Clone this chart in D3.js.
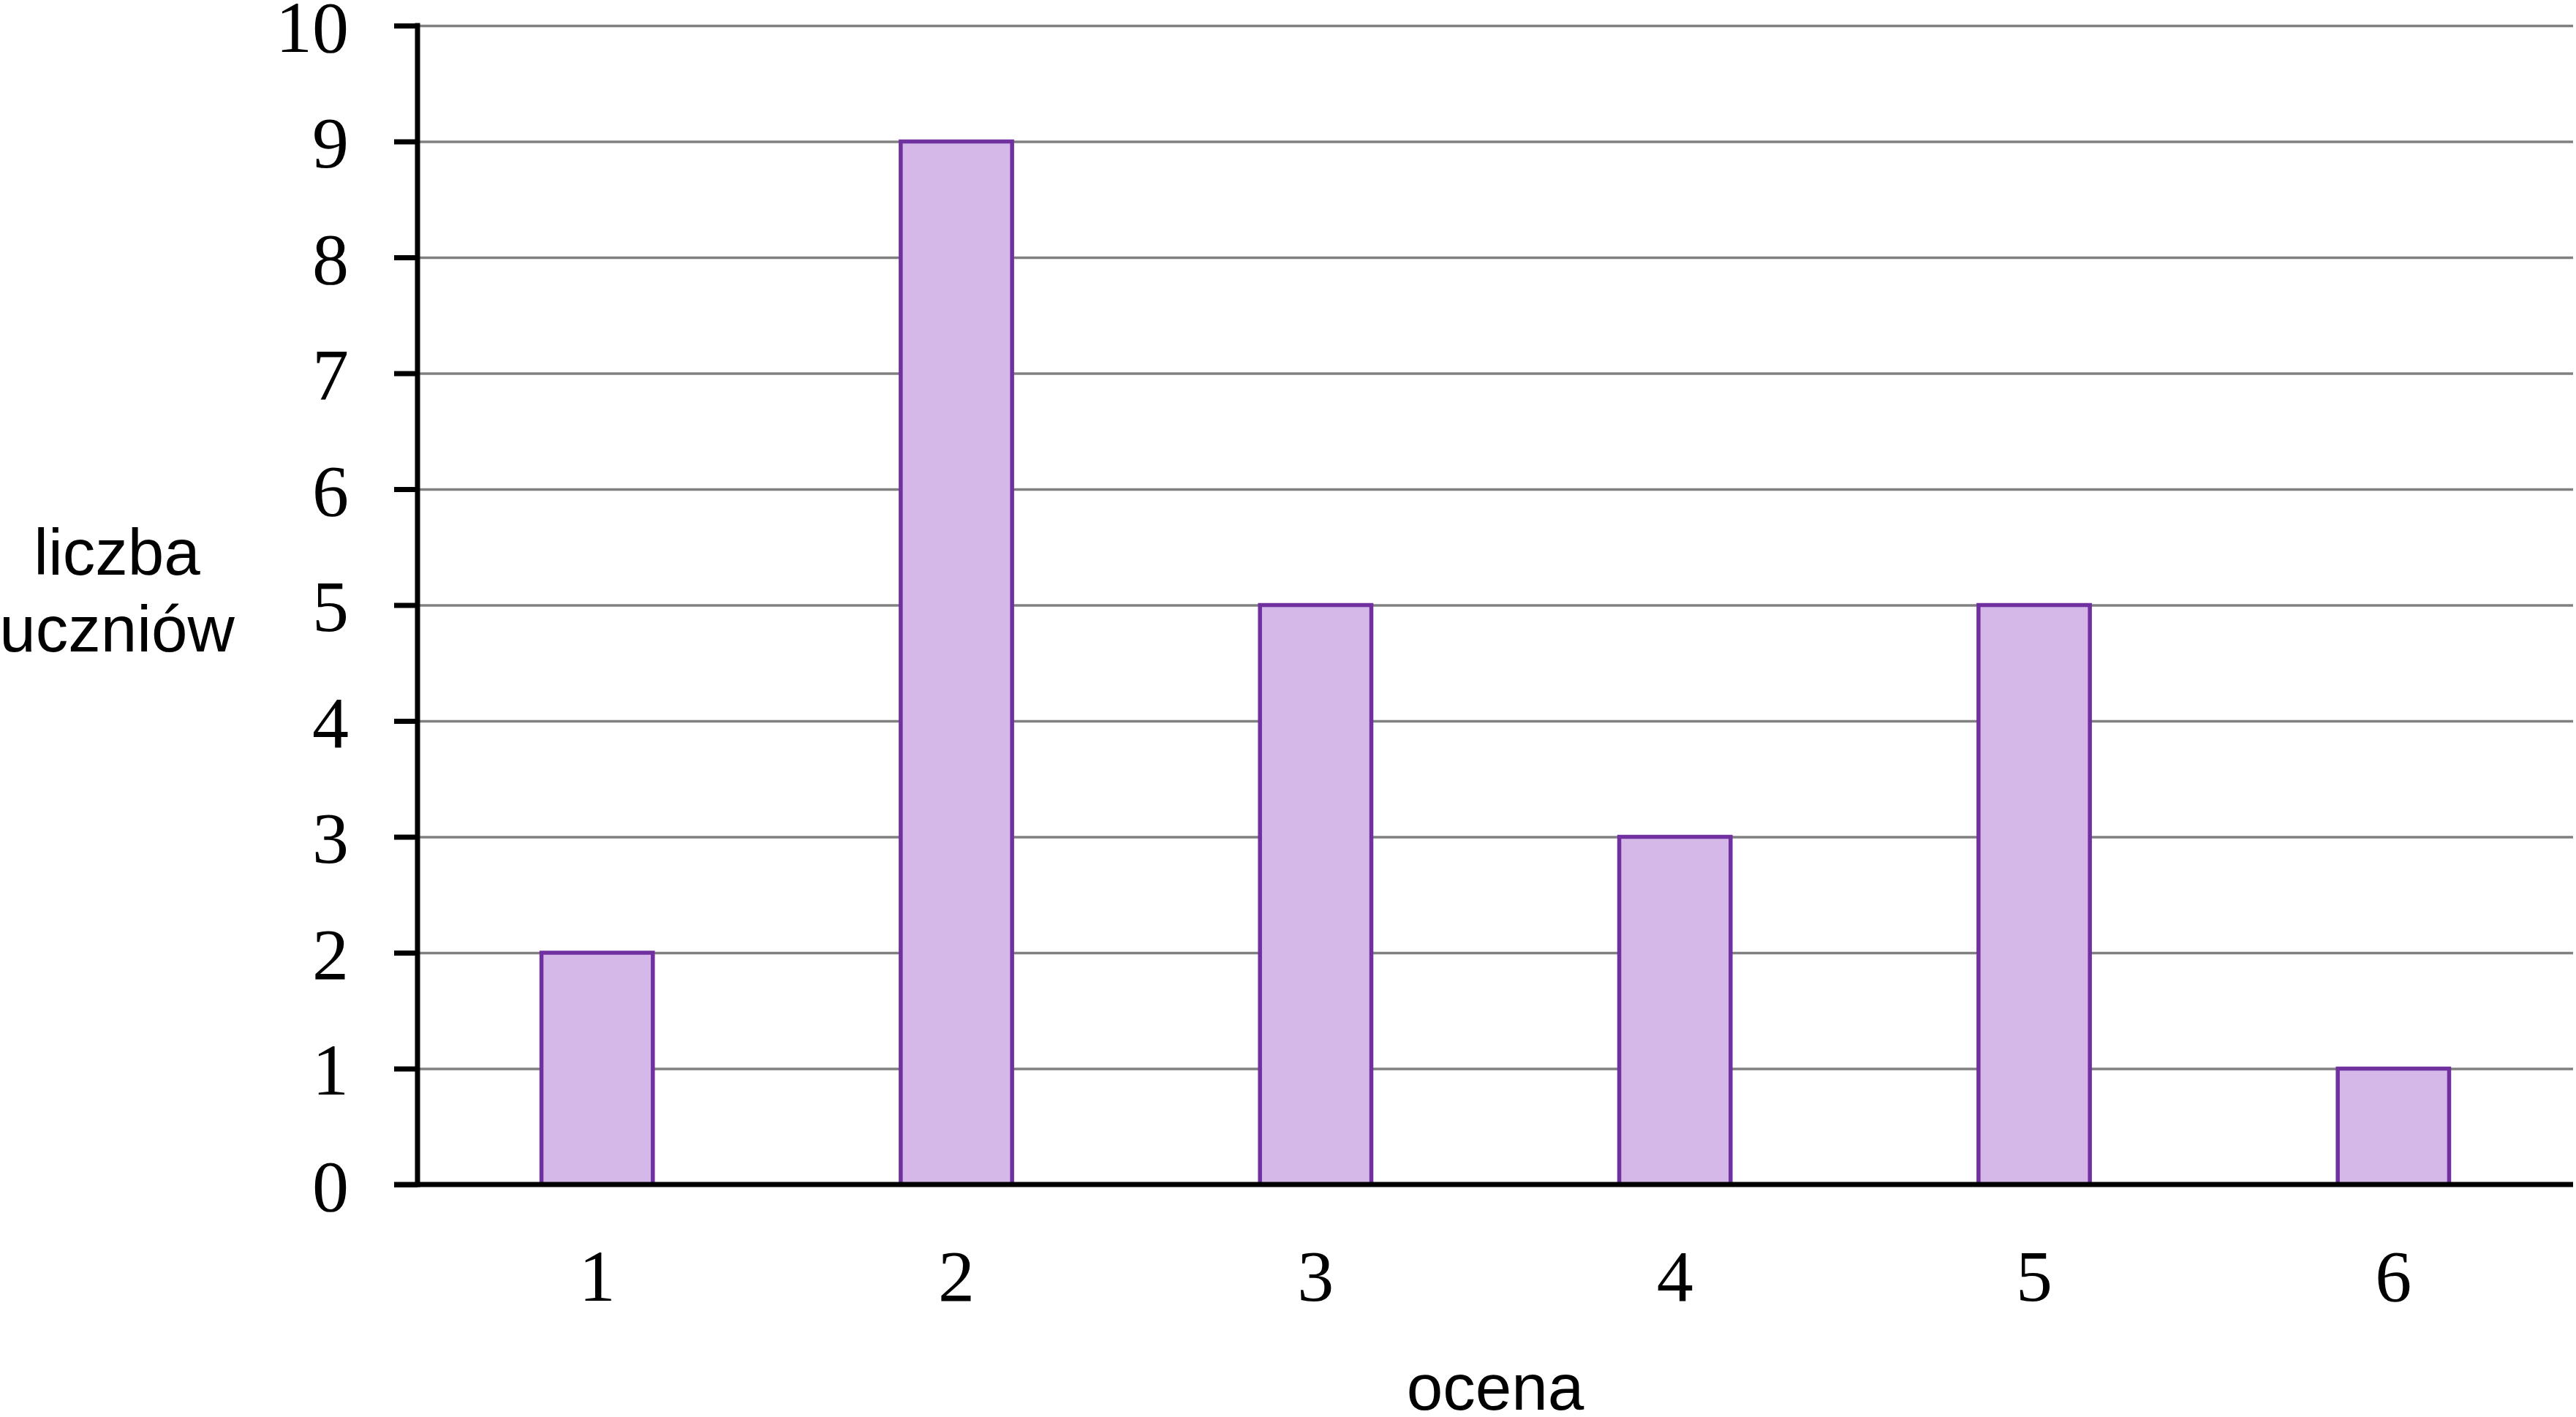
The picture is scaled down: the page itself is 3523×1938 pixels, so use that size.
<!DOCTYPE html>
<html>
<head>
<meta charset="utf-8">
<script src="https://cdn.jsdelivr.net/npm/d3@7"></script>
<style>
  html, body { margin: 0; padding: 0; background: #ffffff; }
  svg { display: block; }
</style>
</head>
<body>
<svg id="chart" width="3523" height="1938"></svg>
<script>
// ---- data ----
const categories = ["1", "2", "3", "4", "5", "6"];
const values = [2, 9, 5, 3, 5, 1];
const yTicks = [0, 1, 2, 3, 4, 5, 6, 7, 8, 9, 10];
const yTitleLines = ["liczba", "uczniów"];
const xTitle = "ocena";

// ---- layout ----
const plotLeft = 571, plotRight = 3519, plotTop = 35, plotBottom = 1620;

const svg = d3.select("#chart");

const x = d3.scaleBand()
  .domain(categories)
  .range([plotLeft, plotRight])
  .paddingInner(0.69)
  .paddingOuter(0.345);

const y = d3.scaleLinear()
  .domain([0, 10])
  .range([plotBottom, plotTop]);

// gridlines
const grid = svg.append("g")
  .attr("transform", `translate(${plotLeft},0)`)
  .call(d3.axisLeft(y).tickValues(yTicks.filter(d => d > 0)).tickSize(-(plotRight - plotLeft)).tickFormat(""));
grid.select(".domain").remove();
grid.selectAll(".tick line").attr("stroke", "#808080").attr("stroke-width", 3.5);

// bars
svg.append("g")
  .selectAll("rect")
  .data(values)
  .join("rect")
  .attr("x", (d, i) => x(categories[i]))
  .attr("y", d => y(d))
  .attr("width", x.bandwidth())
  .attr("height", d => y(0) - y(d))
  .attr("fill", "#D5B8E8")
  .attr("stroke", "#7030A0")
  .attr("stroke-width", 5.5);

// x axis
const xAxis = svg.append("g")
  .attr("transform", `translate(0,${plotBottom})`)
  .call(d3.axisBottom(x).tickSize(0).tickSizeOuter(0).tickPadding(88));
xAxis.select(".domain").attr("stroke", "#000").attr("stroke-width", 7)
  .attr("d", `M${plotLeft - 32},0H${plotRight}`);
xAxis.selectAll(".tick text")
  .attr("font-family", "'Liberation Serif', 'DejaVu Serif', serif")
  .attr("font-size", 100)
  .attr("fill", "#000");

// y axis
const yAxis = svg.append("g")
  .attr("transform", `translate(${plotLeft},0)`)
  .call(d3.axisLeft(y).tickValues(yTicks).tickSize(32).tickSizeOuter(0).tickPadding(62).tickFormat(d3.format("d")));
yAxis.select(".domain").attr("stroke", "#000").attr("stroke-width", 7)
  .attr("d", `M0,${plotBottom + 3.5}V${plotTop - 3.5}`);
yAxis.selectAll(".tick line").attr("stroke", "#000").attr("stroke-width", 7);
yAxis.selectAll(".tick text")
  .attr("font-family", "'Liberation Serif', 'DejaVu Serif', serif")
  .attr("font-size", 100)
  .attr("dy", "0.35em")
  .attr("fill", "#000");

// y axis title
const yt = svg.append("text")
  .attr("text-anchor", "middle")
  .attr("font-family", "'Liberation Sans', Arial, sans-serif")
  .attr("font-size", 89)
  .attr("fill", "#000");
yTitleLines.forEach((t, i) => {
  yt.append("tspan").attr("x", 160).attr("y", 786 + i * 105).text(t);
});

// x axis title
svg.append("text")
  .attr("x", (plotLeft + plotRight) / 2)
  .attr("y", 1928)
  .attr("text-anchor", "middle")
  .attr("font-family", "'Liberation Sans', Arial, sans-serif")
  .attr("font-size", 89)
  .attr("fill", "#000")
  .text(xTitle);
</script>
</body>
</html>
